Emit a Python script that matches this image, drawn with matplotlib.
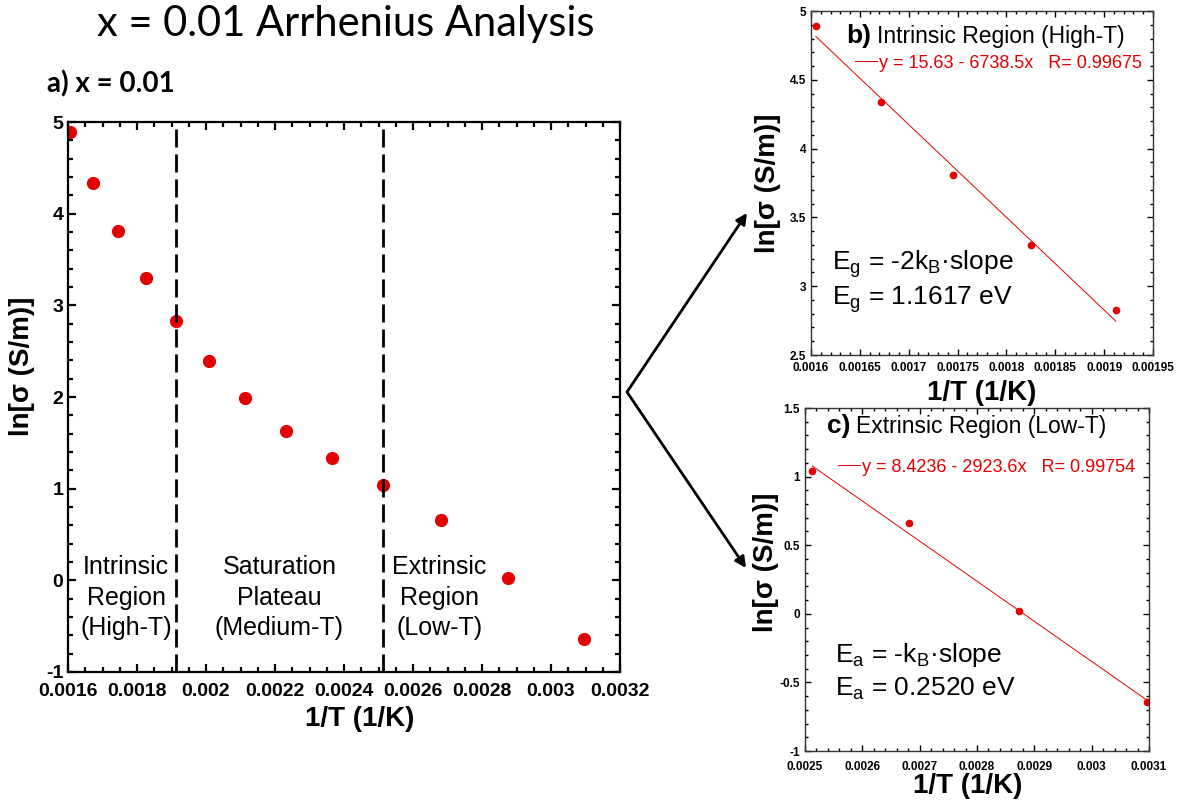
import matplotlib
matplotlib.use("Agg")
import matplotlib.pyplot as plt
from matplotlib.ticker import MultipleLocator, FuncFormatter
import numpy as np

# ------------------------------------------------------------------
# data: ln(sigma) vs 1/T for x = 0.01
# ------------------------------------------------------------------
inv_T = [0.001605, 0.001672, 0.001745, 0.001825, 0.001912, 0.002008, 0.002114,
         0.002232, 0.002364, 0.002513, 0.002681, 0.002874, 0.003096]
ln_sigma = [4.89, 4.34, 3.81, 3.30, 2.83, 2.39, 1.99, 1.63, 1.33, 1.04, 0.66, 0.02, -0.64]

# region boundaries (1/T of the transition points)
boundaries = [0.001912, 0.002513]
region_labels = ["Intrinsic\nRegion\n(High-T)", "Saturation\nPlateau\n(Medium-T)",
                 "Extrinsic\nRegion\n(Low-T)"]
region_x = [0.001769, 0.0022125, 0.002677]

# linear fits
hi_idx = [0, 1, 2, 3, 4]
lo_idx = [9, 10, 11, 12]
fit_hi = dict(a=15.63, b=-6738.5, R=0.99675)
fit_lo = dict(a=8.4236, b=-2923.6, R=0.99754)
Eg = "1.1617"
Ea = "0.2520"

W, H = 1183, 805
RED = "#e30000"
SANS = "Liberation Sans"
fmt = FuncFormatter(lambda v, p: "%g" % v)


def box(left, top, right, bottom):
    return [left / W, 1 - bottom / H, (right - left) / W, (bottom - top) / H]


def style_axes(ax, tick_size, major_len, minor_len, lw):
    ax.tick_params(which="both", direction="in", top=True, right=True, width=lw)
    ax.tick_params(which="major", length=major_len, labelsize=tick_size)
    ax.tick_params(which="minor", length=minor_len)
    for s in ax.spines.values():
        s.set_linewidth(lw)
    for lab in ax.get_xticklabels() + ax.get_yticklabels():
        lab.set_fontweight("bold")
        lab.set_family(SANS)
    ax.xaxis.set_major_formatter(fmt)
    ax.yaxis.set_major_formatter(fmt)


fig = plt.figure(figsize=(W / 100, H / 100), dpi=100)

# ------------------------------------------------------------------
# a) full range
# ------------------------------------------------------------------
ax = fig.add_axes(box(68, 122, 620, 672))
ax.plot(inv_T, ln_sigma, "o", color=RED, ms=8.5, mec=RED)
for xb in boundaries:
    ax.axvline(xb, color="k", lw=2, dashes=(6.5, 2.5))
for xr, txt in zip(region_x, region_labels):
    ax.text(xr, -0.19, txt, ha="center", va="center", fontsize=18,
            family=SANS, linespacing=1.35)
ax.set_xlim(0.0016, 0.0032)
ax.set_ylim(-1, 5)
ax.xaxis.set_major_locator(MultipleLocator(0.0002))
ax.xaxis.set_minor_locator(MultipleLocator(0.00005))
ax.yaxis.set_major_locator(MultipleLocator(1))
ax.yaxis.set_minor_locator(MultipleLocator(0.2))
ax.set_xlabel("1/T (1/K)", fontsize=20, fontweight="bold", family=SANS)
ax.set_ylabel("ln[σ (S/m)]", fontsize=20, fontweight="bold", family=SANS)
ax.xaxis.set_label_coords(0.529, -0.062)
ax.yaxis.set_label_coords(-0.06, 0.555)
style_axes(ax, 14, 6, 3.5, 1.6)
ax.tick_params(axis="x", pad=8)

# ------------------------------------------------------------------
# b) high-T fit, c) low-T fit
# ------------------------------------------------------------------
panels = [
    dict(rect=box(811, 11, 1153, 355), idx=hi_idx, fit=fit_hi, xlim=(0.0016, 0.00195),
         ylim=(2.5, 5), xmaj=0.00005, xmin=0.00001, tag="b)", title="Intrinsic Region (High-T)",
         tag_xy=(846, 43), title_x=877, leg_xy=(855, 63),
         lines=[r"E$_\mathregular{g}$ = -2k$_\mathregular{B}$·slope",
                r"E$_\mathregular{g}$ = " + Eg + " eV"],
         txt_x=832, txt_y=(270, 304), ylab=(-0.088, 0.5), xlab=(0.5, -0.072), xpad=5),
    dict(rect=box(805, 408, 1149, 751), idx=lo_idx, fit=fit_lo, xlim=(0.0025, 0.0031),
         ylim=(-1, 1.5), xmaj=0.0001, xmin=0.00002, tag="c)", title="Extrinsic Region (Low-T)",
         tag_xy=(827, 433), title_x=856, leg_xy=(838, 467),
         lines=[r"E$_\mathregular{a}$ = -k$_\mathregular{B}$·slope",
                r"E$_\mathregular{a}$ = " + Ea + " eV"],
         txt_x=835, txt_y=(662, 695), ylab=(-0.076, 0.55), xlab=(0.474, -0.063), xpad=7),
]

for p in panels:
    pax = fig.add_axes(p["rect"])
    xs = np.array([inv_T[i] for i in p["idx"]])
    ys = [ln_sigma[i] for i in p["idx"]]
    pax.plot(xs, ys, "o", color=RED, ms=4.5, mec=RED)
    f = p["fit"]
    xf = np.array([xs.min(), xs.max()])
    fit_line, = pax.plot(xf, f["a"] + f["b"] * xf, color=RED, lw=0.7)
    pax.set_xlim(*p["xlim"])
    pax.set_ylim(*p["ylim"])
    pax.xaxis.set_major_locator(MultipleLocator(p["xmaj"]))
    pax.xaxis.set_minor_locator(MultipleLocator(p["xmin"]))
    pax.yaxis.set_major_locator(MultipleLocator(0.5))
    pax.yaxis.set_minor_locator(MultipleLocator(0.1))
    pax.set_xlabel("1/T (1/K)", fontsize=20, fontweight="bold", family=SANS)
    pax.set_ylabel("ln[σ (S/m)]", fontsize=20, fontweight="bold", family=SANS)
    pax.xaxis.set_label_coords(*p["xlab"])
    pax.yaxis.set_label_coords(*p["ylab"])
    style_axes(pax, 8.5, 4, 2.5, 1.0)
    pax.tick_params(axis="x", pad=p["xpad"])
    for s in pax.spines.values():
        s.set_color("#333333")

    label = "y = %s - %sx   R= %s" % (f["a"], -f["b"], f["R"])
    lx, ly = p["leg_xy"]
    pax.legend([fit_line], [label], loc="center left", frameon=False,
               bbox_to_anchor=(lx / W, 1 - ly / H), bbox_transform=fig.transFigure,
               borderpad=0, borderaxespad=0, handlelength=1.2, handletextpad=0.15,
               labelcolor=RED, prop=dict(family=SANS, size=13))

    tx, ty = p["tag_xy"]
    fig.text(tx / W, 1 - ty / H, p["tag"], fontsize=19, fontweight="bold", family=SANS,
             va="baseline")
    fig.text(p["title_x"] / W, 1 - ty / H, p["title"], fontsize=16.5, family=SANS,
             va="baseline")
    for line, yb in zip(p["lines"], p["txt_y"]):
        fig.text(p["txt_x"] / W, 1 - yb / H, line, fontsize=19, family=SANS, va="baseline")

# arrows from the main panel to the two fits
vertex = (627, H - 392)
for tip in [(747, H - 213), (746, H - 568)]:
    fig.add_artist(matplotlib.patches.FancyArrowPatch(
        vertex, tip, transform=None, arrowstyle="-|>", mutation_scale=16,
        lw=2, color="k", shrinkA=0, shrinkB=0))

# headings
fig.text(346 / W, 1 - 24 / H, "x = 0.01 Arrhenius Analysis", fontsize=30, family="Lato",
         ha="center", va="center")
fig.text(47 / W, 1 - 84 / H, "a) x = 0.01", fontsize=20, fontweight="bold", family="Lato",
         va="center")

fig.savefig("out.png", dpi=100)
